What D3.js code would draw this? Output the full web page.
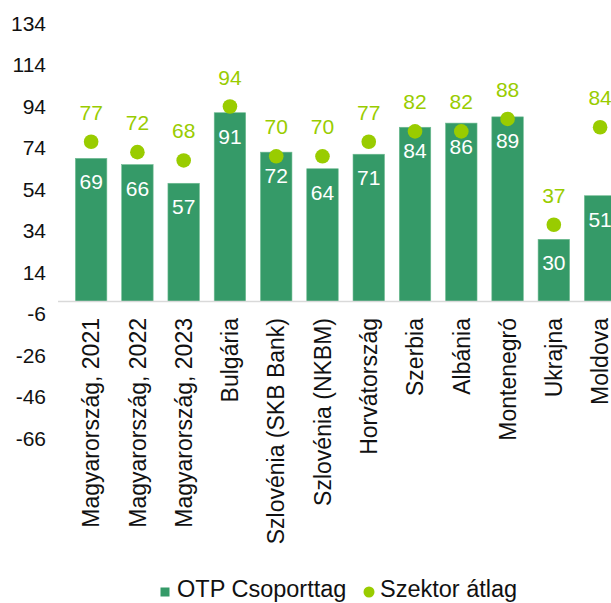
<!DOCTYPE html>
<html>
<head>
<meta charset="utf-8">
<script src="https://cdn.jsdelivr.net/npm/d3@7"></script>
<style>
  body { margin: 0; background: #fff; }
  svg { display: block; font-family: "Liberation Sans", Arial, sans-serif; }
</style>
</head>
<body>
<div id="chart"></div>
<script>
// chart data
var categories = ["Magyarország, 2021", "Magyarország, 2022", "Magyarország, 2023", "Bulgária",
  "Szlovénia (SKB Bank)", "Szlovénia (NKBM)", "Horvátország", "Szerbia", "Albánia",
  "Montenegró", "Ukrajna", "Moldova"];
var otpValues = [69, 66, 57, 91, 72, 64, 71, 84, 86, 89, 30, 51];
var sectorValues = [77, 72, 68, 94, 70, 70, 77, 82, 82, 88, 37, 84];
var yTicks = [134, 114, 94, 74, 54, 34, 14, -6, -26, -46, -66];
var seriesNames = ["OTP Csoporttag", "Szektor átlag"];

var width = 611,
    height = 603;

var barColor = "#359a68",
    dotColor = "#99cc00";

var svg = d3.select("#chart").append("svg")
    .attr("width", width)
    .attr("height", height);

var y = d3.scaleLinear()
    .domain([-66, 134])
    .range([438.5, 23.5]);

var x = d3.scaleBand()
    .domain(categories)
    .range([68, 68 + 12 * 46.27])
    .paddingInner(0.32)
    .paddingOuter(0.16);

// y axis, labels only (plain hyphen for negatives)
var yAxis = d3.axisLeft(y)
    .tickValues(yTicks)
    .tickSize(0)
    .tickPadding(0)
    .tickFormat(function (d) { return String(d); });
var gy = svg.append("g")
    .attr("transform", "translate(46,0)")
    .call(yAxis);
gy.select(".domain").remove();
gy.selectAll("text")
    .style("font-size", "21px")
    .style("font-family", "Liberation Sans, Arial, sans-serif")
    .attr("fill", "#111");

// bars
svg.selectAll("rect.bar").data(otpValues)
  .enter().append("rect")
    .attr("class", "bar")
    .attr("x", function (d, i) { return x(categories[i]); })
    .attr("width", x.bandwidth())
    .attr("y", function (d) { return y(d); })
    .attr("height", function (d) { return y(0) - y(d); })
    .attr("fill", barColor)
    .attr("stroke", "#6fbb92")
    .attr("stroke-width", 0.6);

// baseline
svg.append("line")
    .attr("x1", 58)
    .attr("x2", width)
    .attr("y1", y(0))
    .attr("y2", y(0))
    .attr("stroke", "#d9d9d9")
    .attr("stroke-width", 1.5);

// bar labels
svg.selectAll("text.barlabel").data(otpValues)
  .enter().append("text")
    .attr("class", "barlabel")
    .attr("x", function (d, i) { return x(categories[i]) + x.bandwidth() / 2; })
    .attr("y", function (d) { return y(d) + 31; })
    .attr("text-anchor", "middle")
    .attr("fill", "#fff")
    .style("font-size", "21px")
    .text(function (d) { return d; });

// sector average dots
svg.selectAll("circle.dot").data(sectorValues)
  .enter().append("circle")
    .attr("class", "dot")
    .attr("cx", function (d, i) { return x(categories[i]) + x.bandwidth() / 2; })
    .attr("cy", function (d) { return y(d); })
    .attr("r", 7.3)
    .attr("fill", dotColor);

svg.selectAll("text.dotlabel").data(sectorValues)
  .enter().append("text")
    .attr("class", "dotlabel")
    .attr("x", function (d, i) { return x(categories[i]) + x.bandwidth() / 2; })
    .attr("y", function (d) { return y(d) - 22; })
    .attr("text-anchor", "middle")
    .attr("fill", dotColor)
    .style("font-size", "21px")
    .text(function (d) { return d; });

// category labels, rotated
svg.selectAll("text.cat").data(categories)
  .enter().append("text")
    .attr("class", "cat")
    .attr("transform", function (d) {
      return "translate(" + (x(d) + x.bandwidth() / 2) + ",318) rotate(-90)";
    })
    .attr("dy", "0.36em")
    .attr("text-anchor", "end")
    .attr("fill", "#111")
    .style("font-size", "23px")
    .text(function (d) { return d; });

// legend
var legend = svg.append("g");
legend.append("rect")
    .attr("x", 160.5)
    .attr("y", 587.5)
    .attr("width", 9)
    .attr("height", 9)
    .attr("fill", barColor);
legend.append("text")
    .attr("x", 177)
    .attr("y", 597)
    .attr("fill", "#111")
    .style("font-size", "23.5px")
    .text(seriesNames[0]);
legend.append("circle")
    .attr("cx", 369)
    .attr("cy", 592)
    .attr("r", 5.5)
    .attr("fill", dotColor);
legend.append("text")
    .attr("x", 380)
    .attr("y", 597)
    .attr("fill", "#111")
    .style("font-size", "23.5px")
    .text(seriesNames[1]);
</script>
</body>
</html>
